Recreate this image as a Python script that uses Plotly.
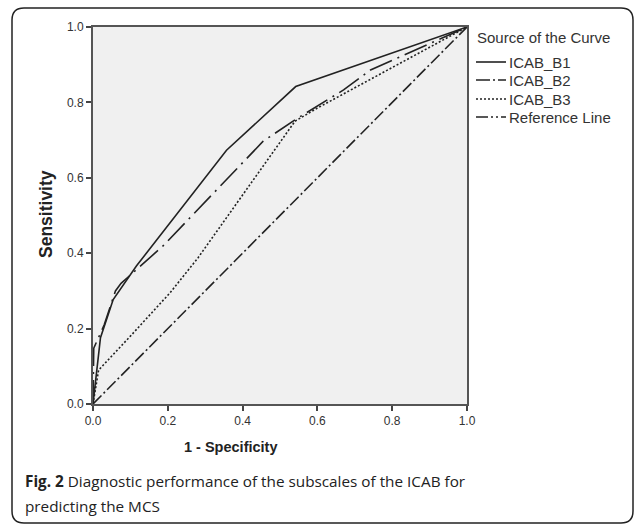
import plotly.graph_objects as go

# ---- data ----
b1_x = [0.0, 0.02, 0.054, 0.116, 0.357, 0.542, 1.0]
b1_y = [0.0, 0.176, 0.277, 0.366, 0.673, 0.842, 1.0]

b2_x = [0.0, 0.002, 0.03, 0.06, 0.075, 0.12, 0.188, 0.455, 0.545, 0.67, 0.742, 1.0]
b2_y = [0.0, 0.148, 0.21, 0.30, 0.32, 0.36, 0.42, 0.697, 0.757, 0.833, 0.886, 1.0]

b3_x = [0.0, 0.015, 0.1, 0.206, 0.281, 0.411, 0.54, 0.6, 0.713, 1.0]
b3_y = [0.0, 0.09, 0.18, 0.295, 0.388, 0.568, 0.75, 0.785, 0.846, 1.0]

ref_x = [0.0, 1.0]
ref_y = [0.0, 1.0]

ticks = [0.0, 0.2, 0.4, 0.6, 0.8, 1.0]
tick_labels = ["0.0", "0.2", "0.4", "0.6", "0.8", "1.0"]

series_names = ["ICAB_B1", "ICAB_B2", "ICAB_B3", "Reference Line"]
legend_title = "Source of the Curve"
x_title = "1 - Specificity"
y_title = "Sensitivity"

# ---- layout geometry (pixels) ----
W, H = 634, 527
L, R, T, B = 93, 467, 27, 404

def px(xp):
    return (xp - L) / (R - L)

def py(yp):
    return (B - yp) / (B - T)

line_col = "#222222"
dashes = ["solid", "24px,6px,2px,6px", "2px,2px", "12px,3px,2px,3px"]
legend_dashes = ["solid", "14px,3px,2px,3px", "2px,2px", "12px,3px,2px,3px,2px,3px"]
series = [(b1_x, b1_y), (b2_x, b2_y), (b3_x, b3_y), (ref_x, ref_y)]

fig = go.Figure()
for (xs, ys), name, dash in zip(series, series_names, dashes):
    fig.add_trace(go.Scatter(x=xs, y=ys, mode="lines", name=name, showlegend=False,
                             line=dict(color=line_col, width=1.6, dash=dash)))

# rounded outer frame
x0, x1, y0, y1, r = 12, 633, 8, 523, 12
path = (f"M {px(x0+r)},{py(y0)} L {px(x1-r)},{py(y0)} Q {px(x1)},{py(y0)} {px(x1)},{py(y0+r)} "
        f"L {px(x1)},{py(y1-r)} Q {px(x1)},{py(y1)} {px(x1-r)},{py(y1)} "
        f"L {px(x0+r)},{py(y1)} Q {px(x0)},{py(y1)} {px(x0)},{py(y1-r)} "
        f"L {px(x0)},{py(y0+r)} Q {px(x0)},{py(y0)} {px(x0+r)},{py(y0)} Z")
fig.add_shape(type="path", path=path, xref="paper", yref="paper",
              line=dict(color="#222222", width=1.5), layer="below")

# custom legend (SPSS style)
leg_font = dict(family="Liberation Sans, Arial", size=15, color="#333333")
fig.add_annotation(xref="paper", yref="paper", x=px(475), y=py(38), xanchor="left", yanchor="middle",
                   text=legend_title, showarrow=False, font=leg_font)
leg_rows = [62, 80, 99, 117]
for yrow, name, dash in zip(leg_rows, series_names, legend_dashes):
    fig.add_shape(type="line", xref="paper", yref="paper",
                  x0=px(476), x1=px(506), y0=py(yrow), y1=py(yrow),
                  line=dict(color=line_col, width=1.6, dash=dash))
    fig.add_annotation(xref="paper", yref="paper", x=px(507), y=py(yrow), xanchor="left", yanchor="middle",
                       text=name, showarrow=False, font=leg_font)

axis_common = dict(range=[0, 1], tickvals=ticks, ticktext=tick_labels,
                   ticks="outside", ticklen=5, tickwidth=1.5, tickcolor="#444444",
                   showgrid=False, zeroline=False, showline=True, linecolor="#555555",
                   linewidth=2, mirror=True,
                   tickfont=dict(family="Liberation Sans, Arial", size=12, color="#333333"))

fig.update_layout(
    width=W, height=H,
    margin=dict(l=L, r=W - R, t=T, b=H - B),
    paper_bgcolor="white", plot_bgcolor="#f0f0f0",
    xaxis=axis_common, yaxis=axis_common,
    showlegend=False,
)

# axis titles (positioned as in the SPSS export)
fig.add_annotation(xref="paper", yref="paper", x=px(230), y=py(447), xanchor="center", yanchor="middle",
                   text=f"<b>{x_title}</b>", showarrow=False,
                   font=dict(family="Liberation Sans, Arial", size=14.5, color="#222222"))
fig.add_annotation(xref="paper", yref="paper", x=px(46), y=py(214), xanchor="center", yanchor="middle",
                   text=f"<b>{y_title}</b>", showarrow=False, textangle=-90,
                   font=dict(family="Liberation Sans, Arial", size=17.5, color="#222222"))

fig.add_annotation(xref="paper", yref="paper", x=px(23), y=py(481), xanchor="left", yanchor="middle",
                   text="<b>Fig. 2</b> Diagnostic performance of the subscales of the ICAB for",
                   showarrow=False, font=dict(family="Open Sans", size=15.3, color="#222222"))
fig.add_annotation(xref="paper", yref="paper", x=px(23), y=py(506), xanchor="left", yanchor="middle",
                   text="predicting the MCS",
                   showarrow=False, font=dict(family="Open Sans", size=15.3, color="#222222"))

fig.write_html("out.html", config={"displayModeBar": False},
               post_script="document.body.style.margin='0';document.body.style.padding='0';")
